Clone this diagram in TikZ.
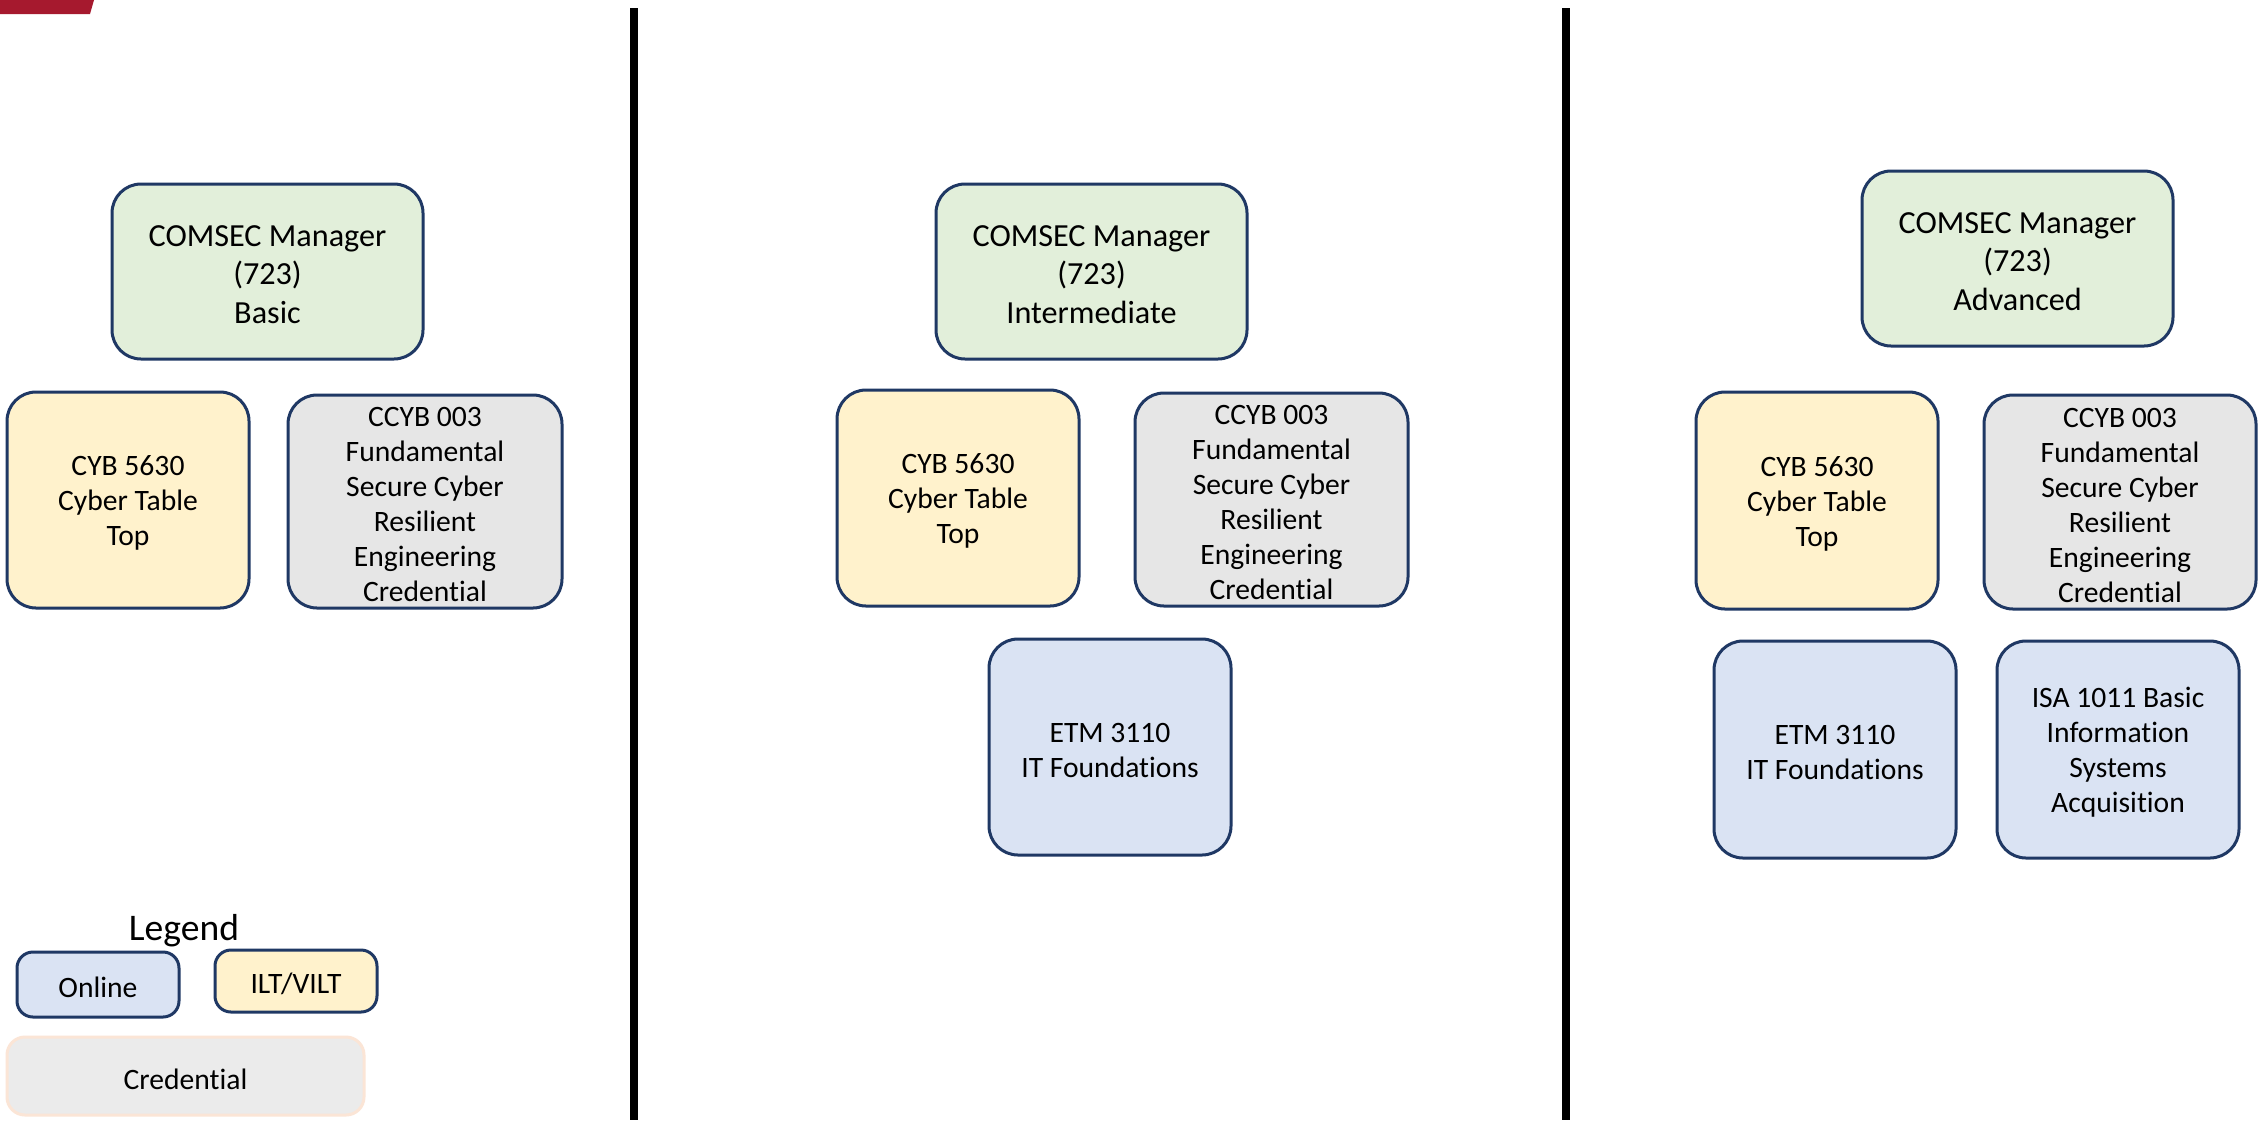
\documentclass[tikz,border=0pt]{standalone}
\usepackage{fontspec}
\setmainfont{Carlito}[Ligatures={NoCommon,NoContextual}]
\definecolor{navy}{HTML}{1F3864}
\definecolor{gfill}{HTML}{E2EFDA}
\definecolor{yfill}{HTML}{FFF2CC}
\definecolor{cfill}{HTML}{E6E6E6}
\definecolor{bfill}{HTML}{DAE3F3}
\definecolor{lgfill}{HTML}{EBEBEB}
\definecolor{lgborder}{HTML}{FBE5D6}
\definecolor{redbar}{HTML}{A6192E}
\tikzset{
  box/.style={draw=navy, line width=1.5pt, rounded corners=14.5pt, inner sep=0pt},
  boxw/.style 2 args={minimum width=#1*0.5pt, minimum height=#2*0.5pt},
  greenbox/.style={box, fill=gfill},
  yellowbox/.style={box, fill=yfill},
  credbox/.style={box, fill=cfill},
  bluebox/.style={box, fill=bfill},
  bigtext/.style={align=center, inner sep=0pt, yshift=-1.5pt, font=\fontsize{16.1}{19.4}\selectfont},
  smalltext/.style={align=center, inner sep=0pt, yshift=-1.5pt, font=\fontsize{14.8}{17.5}\selectfont},
  divider/.style={line width=4pt, black}
}
\begin{document}
\begin{tikzpicture}[x=0.5pt, y=-0.5pt]
\useasboundingbox (0,0) rectangle (2258,1120);
\fill[white] (0,0) rectangle (2258,1120);
% red bar
\fill[redbar] (0,0) -- (94,0) -- (90,14) -- (0,14) -- cycle;
% dividers
\coordinate (d1t) at (634,8); \coordinate (d1b) at (634,1120);
\coordinate (d2t) at (1566,8); \coordinate (d2b) at (1566,1120);
\draw[divider] (d1t) -- (d1b);
\draw[divider] (d2t) -- (d2b);
% column 1
\node[greenbox, boxw={311}{175}] (g1) at (267.5,271.5) {};
\node[bigtext] (g1t) at (g1) {COMSEC Manager\\(723)\\Basic};
\node[yellowbox, boxw={242}{216}] (y1) at (128,500) {};
\node[smalltext] (y1t) at (y1) {CYB 5630\\Cyber Table\\Top};
\node[credbox, boxw={274}{213}] (c1) at (425,501.5) {};
\node[smalltext] (c1t) at (c1) {CCYB 003\\Fundamental\\Secure Cyber\\Resilient\\Engineering\\Credential};
% column 2
\node[greenbox, boxw={311}{175}] (g2) at (1091.5,271.5) {};
\node[bigtext] (g2t) at (g2) {COMSEC Manager\\(723)\\Intermediate};
\node[yellowbox, boxw={242}{216}] (y2) at (958,498) {};
\node[smalltext] (y2t) at (y2) {CYB 5630\\Cyber Table\\Top};
\node[credbox, boxw={273}{213}] (c2) at (1271.5,499.5) {};
\node[smalltext] (c2t) at (c2) {CCYB 003\\Fundamental\\Secure Cyber\\Resilient\\Engineering\\Credential};
\node[bluebox, boxw={242}{216}] (b2) at (1110,747) {};
\node[smalltext] (b2t) at (b2) {ETM 3110\\IT Foundations};
% column 3
\node[greenbox, boxw={311}{175}] (g3) at (2017.5,258.5) {};
\node[bigtext] (g3t) at (g3) {COMSEC Manager\\(723)\\Advanced};
\node[yellowbox, boxw={242}{217}] (y3) at (1817,500.5) {};
\node[smalltext] (y3t) at (y3) {CYB 5630\\Cyber Table\\Top};
\node[credbox, boxw={272}{214}] (c3) at (2120,502) {};
\node[smalltext] (c3t) at (c3) {CCYB 003\\Fundamental\\Secure Cyber\\Resilient\\Engineering\\Credential};
\node[bluebox, boxw={242}{217}] (b3) at (1835,749.5) {};
\node[smalltext] (b3t) at (b3) {ETM 3110\\IT Foundations};
\node[bluebox, boxw={242}{217}] (b4) at (2118,749.5) {};
\node[smalltext] (b4t) at (b4) {ISA 1011 Basic\\Information\\Systems\\Acquisition};
% legend
\node[font=\fontsize{18.8}{22}\selectfont, inner sep=0pt] (lg) at (184,931) {Legend};
\node[bluebox, rounded corners=8pt, boxw={162}{65}] (lon) at (98,984.5) {};
\node[smalltext] (lont) at (lon) {Online};
\node[yellowbox, rounded corners=8pt, boxw={162}{62}] (lilt) at (296,981) {};
\node[smalltext] (liltt) at (lilt) {ILT/VILT};
\node[box, draw=lgborder, fill=lgfill, rounded corners=9pt, boxw={357}{78}] (lcr) at (185.5,1076) {};
\node[smalltext] (lcrt) at (lcr) {Credential};
\end{tikzpicture}
\end{document}
